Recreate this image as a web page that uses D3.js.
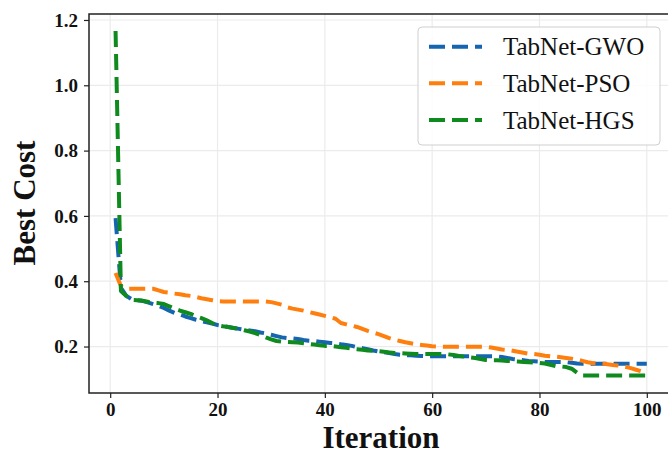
<!DOCTYPE html>
<html>
<head>
<meta charset="utf-8">
<script src="https://cdn.jsdelivr.net/npm/d3@7"></script>
<style>
  html, body { margin: 0; padding: 0; background: #fff; }
  svg { display: block; }
</style>
</head>
<body>
<svg id="chart" width="668" height="456"></svg>
<script>
// ---------------- data ----------------
const iterations = d3.range(1, 101);
const seriesNames = ["TabNet-GWO", "TabNet-PSO", "TabNet-HGS"];
const gwo = [
  0.593, 0.380, 0.355, 0.345, 0.342, 0.340, 0.335, 0.330, 0.325, 0.318,
  0.310, 0.303, 0.298, 0.292, 0.287, 0.282, 0.278, 0.274, 0.270, 0.266,
  0.263, 0.260, 0.257, 0.254, 0.251, 0.249, 0.247, 0.243, 0.240, 0.236,
  0.232, 0.228, 0.226, 0.225, 0.223, 0.220, 0.218, 0.217, 0.215, 0.213,
  0.211, 0.210, 0.207, 0.205, 0.202, 0.198, 0.195, 0.192, 0.188, 0.185,
  0.183, 0.180, 0.177, 0.175, 0.174, 0.173, 0.172, 0.171, 0.170, 0.170,
  0.170, 0.170, 0.170, 0.170, 0.170, 0.170, 0.170, 0.170, 0.170, 0.170,
  0.170, 0.170, 0.168, 0.165, 0.162, 0.160, 0.158, 0.156, 0.155, 0.154,
  0.153, 0.153, 0.153, 0.153, 0.152, 0.150, 0.148, 0.147, 0.147, 0.147,
  0.147, 0.147, 0.147, 0.147, 0.147, 0.147, 0.147, 0.147, 0.147, 0.147
];
const pso = [
  0.425, 0.385, 0.377, 0.377, 0.377, 0.377, 0.377, 0.377, 0.372, 0.367,
  0.365, 0.362, 0.360, 0.357, 0.355, 0.352, 0.348, 0.345, 0.342, 0.339,
  0.338, 0.338, 0.338, 0.338, 0.338, 0.338, 0.338, 0.338, 0.338, 0.336,
  0.332, 0.328, 0.320, 0.316, 0.313, 0.310, 0.306, 0.302, 0.298, 0.294,
  0.290, 0.285, 0.272, 0.268, 0.264, 0.260, 0.254, 0.248, 0.243, 0.238,
  0.232, 0.226, 0.221, 0.217, 0.213, 0.210, 0.207, 0.205, 0.203, 0.201,
  0.200, 0.199, 0.199, 0.199, 0.199, 0.199, 0.199, 0.199, 0.199, 0.199,
  0.197, 0.194, 0.191, 0.190, 0.187, 0.184, 0.181, 0.178, 0.177, 0.175,
  0.172, 0.170, 0.169, 0.167, 0.165, 0.163, 0.160, 0.156, 0.152, 0.149,
  0.148, 0.147, 0.145, 0.143, 0.141, 0.138, 0.134, 0.129, 0.124, 0.120
];
const hgs = [
  1.166, 0.370, 0.355, 0.343, 0.342, 0.340, 0.337, 0.334, 0.333, 0.330,
  0.323, 0.316, 0.310, 0.305, 0.300, 0.293, 0.287, 0.280, 0.272, 0.265,
  0.262, 0.260, 0.257, 0.254, 0.250, 0.246, 0.241, 0.235, 0.228, 0.222,
  0.217, 0.215, 0.214, 0.213, 0.212, 0.210, 0.208, 0.206, 0.204, 0.202,
  0.202, 0.200, 0.198, 0.196, 0.194, 0.192, 0.190, 0.188, 0.187, 0.186,
  0.184, 0.182, 0.180, 0.180, 0.179, 0.178, 0.177, 0.177, 0.177, 0.177,
  0.177, 0.177, 0.176, 0.174, 0.171, 0.169, 0.167, 0.165, 0.162, 0.159,
  0.158, 0.158, 0.157, 0.156, 0.155, 0.154, 0.153, 0.152, 0.151, 0.150,
  0.148, 0.144, 0.140, 0.139, 0.137, 0.132, 0.120, 0.111, 0.111, 0.111,
  0.111, 0.111, 0.111, 0.111, 0.111, 0.111, 0.111, 0.111, 0.111, 0.111
];
const xTicks = [0, 20, 40, 60, 80, 100];
const yTicks = [0.2, 0.4, 0.6, 0.8, 1.0, 1.2];
const xLabel = "Iteration";
const yLabel = "Best Cost";

// ---------------- layout ----------------
const colors = ["#1565b0", "#ff7f0e", "#0f8a1f"];
const allSeries = [gwo, pso, hgs];
const L = 89, R = 668, T = 14, B = 393;
const serif = "'Liberation Serif', 'Times New Roman', Times, serif";

const svg = d3.select("#chart");
const x = d3.scaleLinear().domain([-3.95, 103.95]).range([L, R]);
const y = d3.scaleLinear().domain([0.0577, 1.2183]).range([B, T]);

// grid
const grid = svg.append("g");
grid.selectAll("line.vx").data(xTicks).join("line")
  .attr("x1", d => x(d)).attr("x2", d => x(d)).attr("y1", T).attr("y2", B)
  .attr("stroke", "#ebebeb").attr("stroke-width", 1.2);
grid.selectAll("line.hy").data(yTicks).join("line")
  .attr("y1", d => y(d)).attr("y2", d => y(d)).attr("x1", L).attr("x2", R)
  .attr("stroke", "#ebebeb").attr("stroke-width", 1.2);

// lines
const line = d3.line().x((d, i) => x(iterations[i])).y(d => y(d));
svg.append("g").selectAll("path").data(allSeries).join("path")
  .attr("d", d => line(d))
  .attr("fill", "none")
  .attr("stroke", (d, i) => colors[i])
  .attr("stroke-width", 4)
  .attr("stroke-dasharray", "16,7")
  .attr("stroke-linejoin", "round");

// axes
const xAxis = d3.axisBottom(x).tickValues(xTicks).tickSize(5).tickPadding(5)
  .tickFormat(d3.format("d"));
const yAxis = d3.axisLeft(y).tickValues(yTicks).tickSize(5).tickPadding(6)
  .tickFormat(d3.format(".1f"));
const gx = svg.append("g").attr("transform", `translate(0,${B})`).call(xAxis);
const gy = svg.append("g").attr("transform", `translate(${L},0)`).call(yAxis);
[gx, gy].forEach(g => {
  g.select(".domain").remove();
  g.selectAll(".tick line").attr("stroke", "#222").attr("stroke-width", 1.2);
  g.selectAll(".tick text").attr("fill", "#111")
    .style("font-family", serif).style("font-weight", "bold").style("font-size", "19px");
});

// spines
svg.append("rect").attr("x", L).attr("y", T).attr("width", R - L + 2).attr("height", B - T)
  .attr("fill", "none").attr("stroke", "#222").attr("stroke-width", 1.5);

// axis titles
svg.append("text").attr("x", 381).attr("y", 448).attr("text-anchor", "middle")
  .style("font-family", serif).style("font-weight", "bold").style("font-size", "31px")
  .attr("fill", "#111").text(xLabel);
svg.append("text").attr("transform", "translate(35,203) rotate(-90)").attr("text-anchor", "middle")
  .style("font-family", serif).style("font-weight", "bold").style("font-size", "31px")
  .attr("fill", "#111").text(yLabel);

// legend
const lg = svg.append("g");
lg.append("rect").attr("x", 418).attr("y", 27).attr("width", 242).attr("height", 118)
  .attr("rx", 4).attr("fill", "#fff").attr("fill-opacity", 0.85)
  .attr("stroke", "#cfcfcf").attr("stroke-width", 1);
const rows = [46.7, 83.3, 120];
seriesNames.forEach((name, i) => {
  lg.append("line").attr("x1", 429).attr("x2", 482).attr("y1", rows[i]).attr("y2", rows[i])
    .attr("stroke", colors[i]).attr("stroke-width", 4).attr("stroke-dasharray", "16,7");
  lg.append("text").attr("x", 503).attr("y", rows[i] + 8.5)
    .style("font-family", serif).style("font-size", "25px").attr("fill", "#111").text(name);
});
</script>
</body>
</html>
